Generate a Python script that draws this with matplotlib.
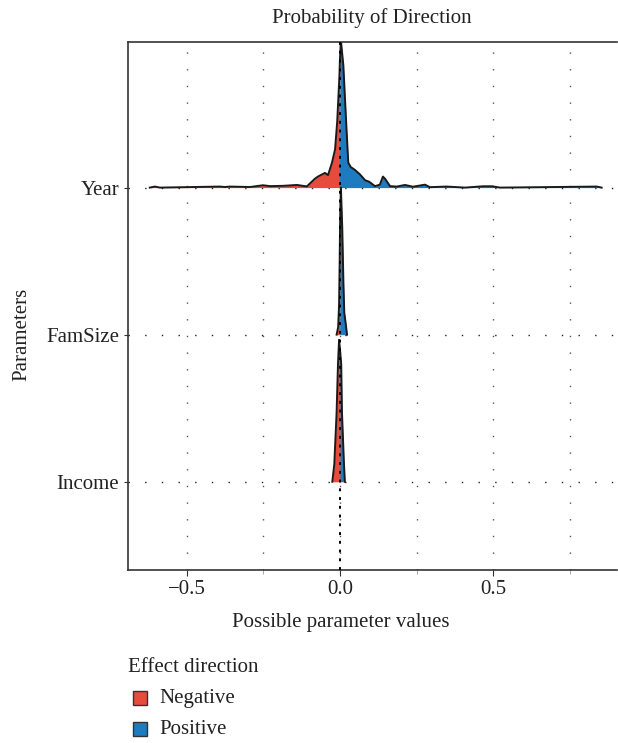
import matplotlib
matplotlib.use("Agg")
import matplotlib.pyplot as plt
import numpy as np
from matplotlib.patches import Rectangle

# ---- data ----
categories = ["Income", "FamSize", "Year"]

year_x = [-0.620, -0.603, -0.587, -0.391, -0.375, -0.359, -0.293, -0.251, -0.228, -0.186,
          -0.140, -0.108, -0.082, -0.072, -0.049, -0.039, -0.026, -0.016, -0.009, -0.002,
          0.0, 0.003, 0.011, 0.020, 0.027, 0.035, 0.049, 0.065, 0.082, 0.095, 0.114, 0.130,
          0.140, 0.147, 0.163, 0.185, 0.212, 0.238, 0.277, 0.293, 0.348, 0.408, 0.466,
          0.495, 0.522, 0.837, 0.853]
year_h = [0.0, 0.007, 0.0, 0.007, 0.004, 0.007, 0.004, 0.016, 0.010, 0.012,
          0.018, 0.008, 0.060, 0.075, 0.100, 0.085, 0.170, 0.260, 0.450, 0.750,
          0.880, 1.000, 0.830, 0.450, 0.170, 0.140, 0.120, 0.090, 0.050, 0.040, 0.010, 0.020,
          0.075, 0.060, 0.010, 0.007, 0.018, 0.006, 0.020, 0.003, 0.007, 0.0, 0.009,
          0.009, 0.0, 0.007, 0.0]

famsize_x = [-0.011, -0.006, -0.003, -0.001, 0.0, 0.001, 0.003, 0.0075, 0.011, 0.014, 0.0196, 0.023]
famsize_h = [0.0, 0.05, 0.20, 0.50, 0.70, 0.85, 1.00, 0.72, 0.37, 0.15, 0.06, 0.0]

income_x = [-0.025, -0.0185, -0.011, -0.0065, -0.003, 0.0, 0.004, 0.0065, 0.013, 0.016]
income_h = [0.0, 0.12, 0.47, 0.80, 0.965, 0.90, 0.80, 0.47, 0.12, 0.0]

legend_labels = ["Negative", "Positive"]
neg_color = "#E64B3C"
pos_color = "#1F7BBF"

x_major = [-0.5, 0.0, 0.5]
x_minor = [-0.25, 0.25, 0.75]

plt.rcParams["font.family"] = ["Liberation Serif", "DejaVu Serif"]
FS = 15

fig = plt.figure(figsize=(6.18, 7.43), dpi=100)
ax = fig.add_axes([128/618, 1-570/743, (617-128)/618, (570-42)/743])

ax.set_xlim(-0.691, 0.903)
ax.set_ylim(0.40, 3.99)

# grid
for gx in x_major + x_minor:
    ax.axvline(gx, color="#555555", lw=1.0, ls=(0, (1, 11)), zorder=0)
for gy in range(1, 4):
    ax.axhline(gy, color="#222222", lw=1.0, ls=(0, (1, 11)), zorder=0)

ridges = [("Year", year_x, year_h), ("FamSize", famsize_x, famsize_h), ("Income", income_x, income_h)]
for i, (name, xs, hs) in enumerate(ridges):
    base = categories.index(name) + 1
    xs = np.array(xs); hs = np.array(hs)
    z = 2 + i
    ax.fill_between(xs, base, base + hs, where=xs <= 0, color=neg_color, lw=0, zorder=z, interpolate=True)
    ax.fill_between(xs, base, base + hs, where=xs >= 0, color=pos_color, lw=0, zorder=z, interpolate=True)
    ax.plot(xs, base + hs, color="#1a1a1a", lw=1.4, zorder=z + 0.5)

ax.axvline(0, color="black", lw=1.4, ls=(0, (1.5, 3)), zorder=10)

ax.set_xticks(x_major)
ax.set_xticklabels(["\u22120.5", "0.0", "0.5"])
ax.set_xticks(x_minor, minor=True)
ax.set_yticks([1, 2, 3])
ax.set_yticklabels(categories)
ax.tick_params(axis="both", which="major", labelsize=FS, length=4, width=0.8, color="#333333", labelcolor="#222222")
ax.tick_params(axis="x", which="minor", length=3, width=0.6, color="#999999")
ax.tick_params(axis="y", length=3)

for s in ["left", "bottom", "top"]:
    ax.spines[s].set_color("#333333")
    ax.spines[s].set_linewidth(1.2)
ax.spines["right"].set_visible(False)

fig.text(372/618, 1-18/743, "Probability of Direction", ha="center", va="center", fontsize=FS, color="#222222")
fig.text(341/618, 1-622/743, "Possible parameter values", ha="center", va="center", fontsize=FS, color="#222222")
fig.text(22/618, 1-334/743, "Parameters", ha="center", va="center", rotation=90, fontsize=FS, color="#222222")

# legend
fig.text(128/618, 1-668/743, "Effect direction", ha="left", va="center", fontsize=FS, color="#222222")
for j, (lab, col) in enumerate(zip(legend_labels, [neg_color, pos_color])):
    cy = 698 + 31 * j
    fig.patches.append(Rectangle((133/618, 1-(cy+7)/743), 14/618, 14/743, transform=fig.transFigure,
                                 facecolor=col, edgecolor="#333333", lw=1.0))
    fig.text(159/618, 1-cy/743, lab, ha="left", va="center", fontsize=FS, color="#222222")

fig.savefig("out.png", dpi=100)
